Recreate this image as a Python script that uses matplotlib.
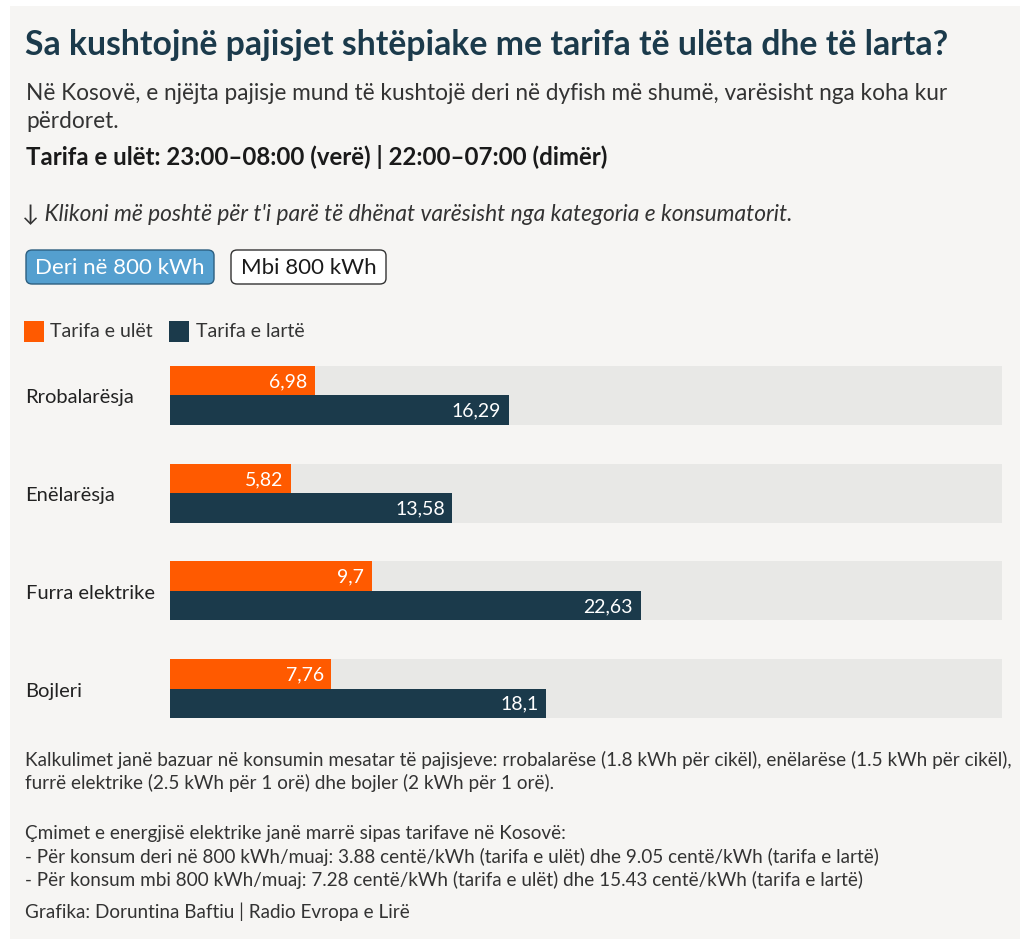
import matplotlib.pyplot as plt
from matplotlib.patches import FancyBboxPatch, Rectangle

# të dhënat
kategorite = ["Rrobalarësja", "Enëlarësja", "Furra elektrike", "Bojleri"]
tarifa_ulet = [6.98, 5.82, 9.7, 7.76]
tarifa_larte = [16.29, 13.58, 22.63, 18.1]
max_x = 40

ngjyra_ulet = "#ff5a00"
ngjyra_larte = "#1b3a4b"
sfondi = "#f6f5f3"
shiriti = "#e8e8e6"

plt.rcParams['font.family'] = ['Lato', 'DejaVu Sans']

W, H = 1027, 945
fig = plt.figure(figsize=(W / 100, H / 100), dpi=100)
fig.patch.set_facecolor("white")

def fx(x):
    return x / W

def fy(y):
    return 1 - y / H

# paneli gri
fig.patches.append(Rectangle((fx(10), fy(940)), fx(1010), (940 - 7) / H,
                             transform=fig.transFigure, facecolor=sfondi,
                             edgecolor="none", zorder=-5))

fig.text(fx(25), fy(45), "Sa kushtojnë pajisjet shtëpiake me tarifa të ulëta dhe të larta?",
         fontsize=24.3, fontweight="bold", color=ngjyra_larte, va="center")
fig.text(fx(26), fy(93), "Në Kosovë, e njëjta pajisje mund të kushtojë deri në dyfish më shumë, varësisht nga koha kur",
         fontsize=16.3, color="#333333", va="center")
fig.text(fx(26), fy(122), "përdoret.", fontsize=16.3, color="#333333", va="center")
fig.text(fx(26), fy(157), "Tarifa e ulët: 23:00–08:00 (verë) | 22:00–07:00 (dimër)",
         fontsize=17.3, fontweight="bold", color="#1a1a1a", va="center")
fig.text(fx(22), fy(215), "↓ Klikoni më poshtë për t'i parë të dhënat varësisht nga kategoria e konsumatorit.",
         fontsize=16.4, style="italic", color="#333333", va="center")

# butonat
b1 = FancyBboxPatch((fx(26), fy(285)), fx(188), 34 / H, boxstyle="round,pad=0,rounding_size=0.006",
                    transform=fig.transFigure, facecolor="#549fcf", edgecolor="#2d5f80", lw=1)
b2 = FancyBboxPatch((fx(231), fy(285)), fx(155), 34 / H, boxstyle="round,pad=0,rounding_size=0.006",
                    transform=fig.transFigure, facecolor="white", edgecolor="#333333", lw=1)
fig.patches.extend([b1, b2])
fig.text(fx(120), fy(268), "Deri në 800 kWh", fontsize=16, color="white", ha="center", va="center")
fig.text(fx(308.5), fy(268), "Mbi 800 kWh", fontsize=16, color="#1a1a1a", ha="center", va="center")

# legjenda
fig.patches.append(Rectangle((fx(24), fy(343)), fx(20), 21 / H, transform=fig.transFigure,
                             facecolor=ngjyra_ulet, edgecolor="none"))
fig.text(fx(50), fy(332), "Tarifa e ulët", fontsize=14, color="#333333", va="center")
fig.patches.append(Rectangle((fx(169), fy(343)), fx(20), 21 / H, transform=fig.transFigure,
                             facecolor=ngjyra_larte, edgecolor="none"))
fig.text(fx(196), fy(332), "Tarifa e lartë", fontsize=14, color="#333333", va="center")

# grafiku me shirita
ax = fig.add_axes([fx(170), fy(719), fx(1002 - 170), (719 - 367) / H], zorder=2)
ax.set_facecolor("none")
h = 0.302
pos = list(range(len(kategorite)))
ax.barh(pos, [max_x] * len(pos), height=2 * h, color=shiriti, zorder=1)
ax.barh([p - h / 2 for p in pos], tarifa_ulet, height=h, color=ngjyra_ulet, zorder=2)
ax.barh([p + h / 2 for p in pos], tarifa_larte, height=h, color=ngjyra_larte, zorder=2)

for p, v in zip(pos, tarifa_ulet):
    ax.annotate(f"{v:g}".replace(".", ","), (v, p - h / 2), xytext=(-5.5, 0), textcoords="offset points",
                ha="right", va="center", color="white", fontsize=14, zorder=3)
for p, v in zip(pos, tarifa_larte):
    ax.annotate(f"{v:g}".replace(".", ","), (v, p + h / 2), xytext=(-5.5, 0), textcoords="offset points",
                ha="right", va="center", color="white", fontsize=14, zorder=3)

ax.set_xlim(0, max_x)
ax.set_ylim(len(pos) - 1 + h, -h)
ax.set_xticks([])
ax.set_yticks(pos)
ax.set_yticklabels(kategorite, fontsize=14.5, color="#222222")
for lbl in ax.get_yticklabels():
    lbl.set_horizontalalignment("left")
ax.tick_params(axis="y", length=0, pad=104)
for s in ax.spines.values():
    s.set_visible(False)

# shënimet
shenime = [
    (760, "Kalkulimet janë bazuar në konsumin mesatar të pajisjeve: rrobalarëse (1.8 kWh për cikël), enëlarëse (1.5 kWh për cikël),"),
    (783, "furrë elektrike (2.5 kWh për 1 orë) dhe bojler (2 kWh për 1 orë)."),
    (833, "Çmimet e energjisë elektrike janë marrë sipas tarifave në Kosovë:"),
    (857, "- Për konsum deri në 800 kWh/muaj: 3.88 centë/kWh (tarifa e ulët) dhe 9.05 centë/kWh (tarifa e lartë)"),
    (880, "- Për konsum mbi 800 kWh/muaj: 7.28 centë/kWh (tarifa e ulët) dhe 15.43 centë/kWh (tarifa e lartë)"),
    (912, "Grafika: Doruntina Baftiu | Radio Evropa e Lirë"),
]
for y, t in shenime:
    fig.text(fx(25), fy(y), t, fontsize=13.6, color="#333333", va="center")

fig.savefig("out.png", dpi=100, facecolor="white")
